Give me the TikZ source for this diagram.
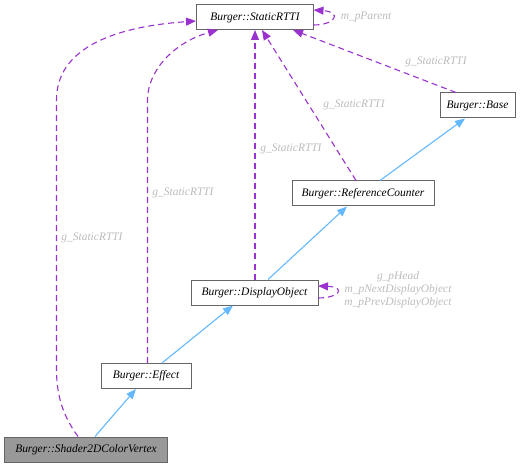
\documentclass[tikz,border=0pt]{standalone}
\usepackage{fontspec}
\setmainfont{Liberation Serif}
\usetikzlibrary{arrows.meta}
\definecolor{edgepurple}{HTML}{9A32CD}
\definecolor{edgeblue}{HTML}{63B8FF}
\definecolor{boxgrey}{HTML}{666666}
\definecolor{labelgrey}{HTML}{BBBBBB}
\definecolor{shadefill}{HTML}{999999}
\begin{document}
\begin{tikzpicture}[x=1bp,y=-1bp,
  cls/.style={draw=boxgrey, line width=1bp, fill=white, rectangle, minimum height=25bp, inner sep=0pt,
    font=\fontsize{11.5}{13}\selectfont\itshape},
  lbl/.style={text=labelgrey, font=\fontsize{11.5}{13}\selectfont\itshape, inner sep=0pt, align=center},
  usage/.style={draw=edgepurple, line width=1.1bp, dash pattern=on 6bp off 4bp,
    -{Triangle[length=10bp,width=8bp,fill=edgepurple]}},
  inherit/.style={draw=edgeblue, line width=1.1bp,
    -{Triangle[length=10bp,width=8bp,fill=edgeblue]}}
]
\useasboundingbox (0,0) rectangle (528,468);

\node[cls, minimum width=117bp] (rtti) at (255,17.5) {Burger::StaticRTTI};
\node[cls, minimum width=75bp] (base) at (477.5,105.5) {Burger::Base};
\node[cls, minimum width=142bp] (ref) at (363,193.5) {Burger::ReferenceCounter};
\node[cls, minimum width=127bp] (disp) at (254.5,292.5) {Burger::DisplayObject};
\node[cls, minimum width=90bp] (eff) at (146,376) {Burger::Effect};
\node[cls, minimum width=162bp, fill=shadefill] (shader) at (86,449.5) {Burger::Shader2DColorVertex};

% coordinates on box borders
\coordinate (rttiL) at (rtti.west |- 0,21);
\coordinate (rttiB1) at (218,30);
\coordinate (rttiB2) at (255,30);
\coordinate (rttiB3) at (262,30);
\coordinate (rttiB4) at (293,30);
\coordinate (rttiR1) at (313.5,10);
\coordinate (rttiR2) at (313.5,25);

% usage edges
\draw[usage] (shader.north -| 78,0) .. controls (66,420) and (56.5,400) .. (56.5,370) -- (56.5,100)
   .. controls (56.5,50) and (110,27) .. (rttiL);
\draw[usage] (eff.north -| 147.5,0) -- (147.5,100) .. controls (147.5,70) and (175,42) .. (rttiB1);
\draw[usage] (disp.north -| 255,0) -- (rttiB2);
\draw[usage] (ref.north -| 356,0) -- (rttiB3);
\draw[usage] (base.north -| 456,0) -- (rttiB4);
\draw[usage] (rttiR2) .. controls (336,25) and (342,12) .. (rttiR1);
\coordinate (dispR1) at (318,286);
\coordinate (dispR2) at (318,298);
\draw[usage] (dispR2) .. controls (340,298) and (346,287) .. (dispR1);

% inheritance edges
\draw[inherit] (shader.north -| 95,0) -- (eff.south -| 136,0);
\draw[inherit] (eff.north -| 162,0) -- (disp.south -| 233,0);
\draw[inherit] (disp.north -| 268,0) -- (ref.south -| 347,0);
\draw[inherit] (ref.north -| 380,0) -- (base.south -| 465,0);

% labels
\node[lbl] (l1) at (366,17) {m\_pParent};
\node[lbl] (l2) at (436,62) {g\_StaticRTTI};
\node[lbl] (l3) at (354,105) {g\_StaticRTTI};
\node[lbl] (l4) at (291,149) {g\_StaticRTTI};
\node[lbl] (l5) at (183,193) {g\_StaticRTTI};
\node[lbl] (l6) at (92,238) {g\_StaticRTTI};
\node[lbl] (l7) at (398,290) {g\_pHead\\m\_pNextDisplayObject\\m\_pPrevDisplayObject};
\end{tikzpicture}
\end{document}
